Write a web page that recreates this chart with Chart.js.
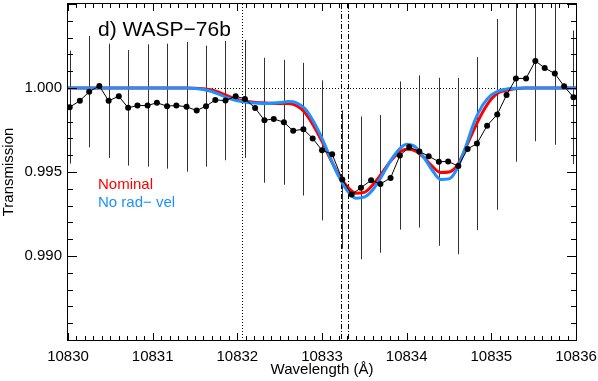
<!DOCTYPE html>
<html>
<head>
<meta charset="utf-8">
<script src="https://cdn.jsdelivr.net/npm/chart.js@4.4.1/dist/chart.umd.min.js"></script>
<style>
  body { margin: 0; background: #fff; }
  canvas { display: block; }
</style>
</head>
<body>
<canvas id="chart" width="598" height="381"></canvas>
<script>
// Observed transmission (binned), with error bars on every second bin
const wavelength = [10830.02, 10830.14, 10830.25, 10830.37, 10830.48, 10830.60, 10830.71, 10830.82, 10830.94,
  10831.05, 10831.17, 10831.28, 10831.40, 10831.52, 10831.63, 10831.74, 10831.86, 10831.98,
  10832.09, 10832.21, 10832.32, 10832.43, 10832.55, 10832.66, 10832.78, 10832.89,
  10833.00, 10833.12, 10833.24, 10833.35, 10833.46, 10833.58, 10833.69, 10833.81, 10833.92,
  10834.03, 10834.15, 10834.26, 10834.38, 10834.49, 10834.61, 10834.72, 10834.83, 10834.95,
  10835.07, 10835.18, 10835.29, 10835.41, 10835.52, 10835.63, 10835.75, 10835.86, 10835.97];
const transmission = [0.99886, 0.99924, 0.99978, 1.00012, 0.99924, 0.99951, 0.99882, 0.99896, 0.99896,
  0.99912, 0.99892, 0.99896, 0.99888, 0.99866, 0.99892, 0.99929, 0.99925, 0.99951,
  0.99935, 0.99881, 0.99808, 0.99816, 0.99796, 0.99745, 0.99755, 0.99700,
  0.99629, 0.99606, 0.99455, 0.99366, 0.99406, 0.99451, 0.99429, 0.99465, 0.99598,
  0.99649, 0.99622, 0.99594, 0.99561, 0.99563, 0.99535, 0.99637, 0.99669, 0.99776,
  0.99843, 0.99959, 1.00057, 1.00057, 1.00161, 1.00119, 1.00086, 1.00010, 0.99945];
const errorBar = [0.00336, null, 0.00331, null, 0.00340, null, 0.00344, null, 0.00364,
  null, 0.00372, null, 0.00386, null, 0.00360, null, 0.00355, null,
  0.00351, null, 0.00372, null, 0.00372, null, 0.00395, null,
  0.00417, null, 0.00412, null, 0.00425, null, 0.00410, null, 0.00441,
  null, 0.00453, null, 0.00500, null, 0.00525, null, 0.00515, null,
  0.00568, null, 0.00496, null, 0.00478, null, 0.00424, null, 0.00397];

// Model curves
const modelWave = [10830.0, 10831.0, 10831.4, 10831.5, 10831.6, 10831.7, 10831.8, 10831.9, 10832.0,
  10832.1, 10832.2, 10832.3, 10832.4, 10832.5, 10832.6, 10832.7, 10832.8, 10832.9, 10833.0,
  10833.1, 10833.2, 10833.3, 10833.4, 10833.5, 10833.6, 10833.7, 10833.8, 10833.9, 10834.0,
  10834.1, 10834.2, 10834.3, 10834.4, 10834.5, 10834.6, 10834.7, 10834.8, 10834.9, 10835.0,
  10835.1, 10835.2, 10835.3, 10835.4, 10835.6, 10836.0];
const nominal = [1.0, 1.0, 1.0, 0.99999, 0.99995, 0.99988, 0.99971, 0.99950, 0.99932,
  0.99921, 0.99915, 0.99912, 0.99909, 0.99908, 0.99908, 0.99894, 0.99853, 0.99776, 0.99682,
  0.99576, 0.99482, 0.99412, 0.99374, 0.99379, 0.99424, 0.99488, 0.99559, 0.99612, 0.99635,
  0.99626, 0.99588, 0.99535, 0.99497, 0.99500, 0.99541, 0.99647, 0.99759, 0.99859, 0.99935,
  0.99976, 0.99988, 0.99997, 1.0, 1.0, 1.0];
const noRadVel = [1.0, 1.0, 1.0, 0.99997, 0.99991, 0.99979, 0.99959, 0.99938, 0.99924,
  0.99915, 0.99910, 0.99908, 0.99909, 0.99913, 0.99919, 0.99912, 0.99876, 0.99800, 0.99700,
  0.99582, 0.99471, 0.99388, 0.99344, 0.99350, 0.99394, 0.99471, 0.99559, 0.99629, 0.99665,
  0.99650, 0.99588, 0.99512, 0.99456, 0.99459, 0.99524, 0.99653, 0.99800, 0.99900, 0.99959,
  0.99985, 0.99995, 0.99999, 1.0, 1.0, 1.0];

// He I triplet positions and axis ticks
const heLines = [10832.06, 10833.22, 10833.31];
const xTicks = [10830, 10831, 10832, 10833, 10834, 10835, 10836];
const yTicks = [0.990, 0.995, 1.000];

const RED = '#ff0000';
const BLUE = '#1e90ff';

Chart.defaults.font.family = '"Liberation Sans", Arial, sans-serif';
Chart.defaults.font.size = 15;
Chart.defaults.color = '#000';

const toXY = (xs, ys) => xs.map((x, i) => ({ x: x, y: ys[i] }));

// dotted / dash-dot reference lines and error bars, under the datasets
const underlay = {
  id: 'underlay',
  beforeDatasetsDraw(chart) {
    const { ctx, chartArea: a, scales: { x, y } } = chart;
    ctx.save();
    ctx.beginPath();
    ctx.rect(a.left, a.top, a.right - a.left, a.bottom - a.top);
    ctx.clip();
    ctx.strokeStyle = '#000';
    ctx.lineWidth = 1;

    ctx.setLineDash([1, 2]);
    const y1 = Math.round(y.getPixelForValue(1.0)) + 0.5;
    ctx.beginPath(); ctx.moveTo(a.left, y1); ctx.lineTo(a.right, y1); ctx.stroke();

    heLines.forEach((w, i) => {
      ctx.setLineDash(i === 0 ? [1, 2] : [5, 2, 1, 2]);
      const px = Math.round(x.getPixelForValue(w)) + 0.5;
      ctx.beginPath(); ctx.moveTo(px, a.top); ctx.lineTo(px, a.bottom); ctx.stroke();
    });

    ctx.setLineDash([]);
    ctx.strokeStyle = '#333';
    wavelength.forEach((w, i) => {
      if (errorBar[i] === null) return;
      const px = Math.round(x.getPixelForValue(w)) + 0.5;
      ctx.beginPath();
      ctx.moveTo(px, y.getPixelForValue(transmission[i] + errorBar[i]));
      ctx.lineTo(px, y.getPixelForValue(transmission[i] - errorBar[i]));
      ctx.stroke();
    });
    ctx.restore();
  }
};

// frame, inward ticks on all four sides, panel label and legend text
const frame = {
  id: 'frame',
  afterDraw(chart) {
    const { ctx, chartArea: a, scales: { x, y } } = chart;
    ctx.save();
    ctx.strokeStyle = '#000';
    ctx.lineWidth = 1;
    ctx.strokeRect(a.left - 0.5, a.top - 0.5, a.right - a.left + 1, a.bottom - a.top + 1);

    ctx.beginPath();
    for (let k = 0; k <= 60; k++) {
      const px = Math.round(x.getPixelForValue(10830 + k * 0.1)) + 0.5;
      const len = k % 10 === 0 ? 7 : 4;
      ctx.moveTo(px, a.bottom); ctx.lineTo(px, a.bottom - len);
      ctx.moveTo(px, a.top); ctx.lineTo(px, a.top + len);
    }
    for (let k = 0; k <= 20; k++) {
      const py = Math.round(y.getPixelForValue(0.985 + k * 0.001)) + 0.5;
      const len = k % 5 === 0 ? 9 : 5;
      ctx.moveTo(a.left, py); ctx.lineTo(a.left + len, py);
      ctx.moveTo(a.right, py); ctx.lineTo(a.right - len, py);
    }
    ctx.stroke();

    ctx.textBaseline = 'alphabetic';
    ctx.textAlign = 'left';
    ctx.fillStyle = '#000';
    ctx.font = '21px "Liberation Sans", Arial, sans-serif';
    ctx.fillText('d) WASP\u221276b', a.left + 30, a.top + 32);
    ctx.font = '15px "Liberation Sans", Arial, sans-serif';
    ctx.fillStyle = RED;
    ctx.fillText('Nominal', a.left + 30, a.top + 185);
    ctx.fillStyle = BLUE;
    ctx.fillText('No rad\u2212 vel', a.left + 30, a.top + 203);
    ctx.restore();
  }
};

new Chart(document.getElementById('chart'), {
  type: 'line',
  data: {
    datasets: [
      {
        label: 'Data',
        data: toXY(wavelength, transmission),
        borderColor: '#000',
        borderWidth: 1,
        backgroundColor: '#000',
        pointRadius: 3,
        pointBorderWidth: 0,
        pointBackgroundColor: '#000',
        tension: 0
      },
      {
        label: 'No rad- vel',
        data: toXY(modelWave, noRadVel),
        borderColor: BLUE,
        borderWidth: 3,
        pointRadius: 0,
        cubicInterpolationMode: 'monotone'
      },
      {
        label: 'Nominal',
        data: toXY(modelWave, nominal),
        borderColor: RED,
        borderWidth: 3,
        pointRadius: 0,
        cubicInterpolationMode: 'monotone'
      }
    ]
  },
  options: {
    responsive: false,
    animation: false,
    devicePixelRatio: 1,
    layout: { padding: { top: 1, right: 22, left: 0, bottom: 0 } },
    plugins: { legend: { display: false }, tooltip: { enabled: false } },
    scales: {
      x: {
        type: 'linear',
        min: 10830,
        max: 10836,
        afterBuildTicks: s => { s.ticks = xTicks.map(v => ({ value: v })); },
        afterFit: s => { s.height = 41; s.paddingLeft = 0; s.paddingRight = 0; },
        grid: { display: false, drawTicks: false },
        border: { display: false },
        ticks: { padding: 8, maxRotation: 0, callback: v => String(v) },
        title: { display: true, text: 'Wavelength (\u00c5)', padding: { top: 0, bottom: 2 } }
      },
      y: {
        type: 'linear',
        min: 0.985,
        max: 1.005,
        afterBuildTicks: s => { s.ticks = yTicks.map(v => ({ value: v })); },
        afterFit: s => { s.width = 68; s.paddingTop = 0; s.paddingBottom = 0; },
        grid: { display: false, drawTicks: false },
        border: { display: false },
        ticks: { padding: 6, callback: v => v.toFixed(3) },
        title: { display: true, text: 'Transmission', padding: { top: 0, bottom: 0 } }
      }
    }
  },
  plugins: [underlay, frame]
});
</script>
</body>
</html>
